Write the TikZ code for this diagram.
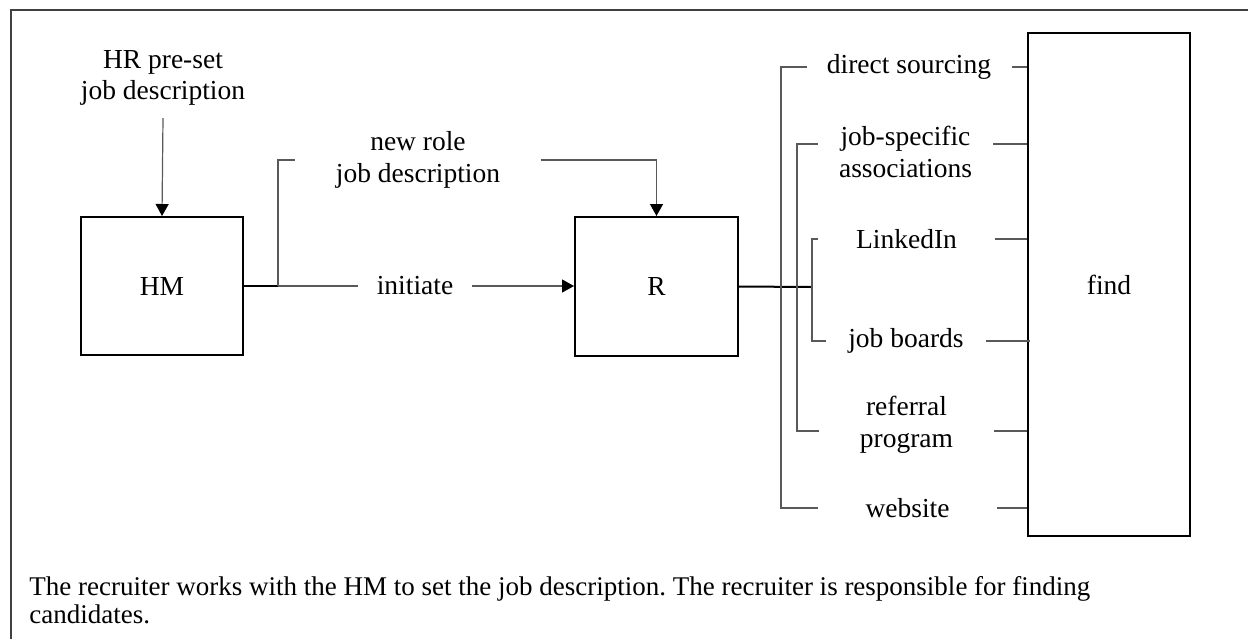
\documentclass[tikz,border=0pt]{standalone}
\usepackage{fontspec}
\setmainfont{Liberation Serif}
\usetikzlibrary{arrows.meta,calc}
\frenchspacing
\begin{document}
\begin{tikzpicture}[x=0.5pt,y=-0.5pt,
  font=\fontsize{13.75}{15.8}\selectfont,
  box/.style={draw=black,line width=1pt,minimum width=81pt,minimum height=69pt,inner sep=0pt},
  conn/.style={draw=black!65,line width=0.6pt},
  heavy/.style={draw=black,line width=1pt},
  tip/.style={-{Triangle[length=6pt,width=6.5pt,color=black]}},
  lab/.style={align=center,inner ysep=0pt,inner xsep=#1},
  lab/.default=10pt,
]
\useasboundingbox (0,0) rectangle (1248,639);

% outer frame (left and top edges)
\draw[line width=1pt,black!75] (11,639) -- (11,10) -- (1248,10);

% main boxes
\node[box] (HM) at (162,286) {HM};
\node[box,minimum width=81.5pt,minimum height=69.5pt] (R) at (656.5,286.5) {R};
\node[box,minimum height=251.5pt] (find) at (1109,284.5) {find};

% input to the hiring manager
\node[align=center,inner ysep=6pt] (hr) at (163,78) {HR pre-set\\job description};
\draw[conn,tip] (hr.south) -- (HM.north);

% hiring manager to recruiter
\coordinate (hmj) at (278,286);
\node[lab=20pt] (nr) at (418,160) {new role\\job description};
\node[lab=9pt] (init) at (415,286) {initiate};
\draw[heavy] (HM.east) -- (hmj);
\draw[conn] (hmj) |- (nr.west);
\draw[conn,tip] (nr.east) -| (R.north);
\draw[conn] (hmj) -- (init.west);
\draw[conn,tip] (init.east) -- (init.east -| R.west);

% sourcing channels
\coordinate (va) at (781,287);
\coordinate (vb) at (797,287);
\coordinate (rj) at (812,287);
\node[lab=10pt]    (ds)  at (909,67)    {direct sourcing};
\node[lab=10.5pt]  (js)  at (905.5,152) {job-specific\\associations};
\node[lab=18.75pt] (li)  at (906.5,239) {LinkedIn};
\node[lab=11pt]    (jb)  at (906,341)   {job boards};
\node[lab=20.5pt]  (rp)  at (906.5,425) {referral\\program};
\node[lab=23.5pt]  (web) at (907.5,508) {website};

\draw[heavy] (R.east) -- (rj);
\draw[conn] (ds.west) -| (va) |- (web.west);
\draw[conn] ([yshift=4pt]js.west) -| (vb) |- ([yshift=-3pt]rp.west);
\draw[conn] (li.west) -| (rj) |- (jb.west);

\draw[conn] (ds.east) -- (ds.east -| find.west);
\draw[conn] ([yshift=4pt]js.east) coordinate (jse) -- (jse -| find.west);
\draw[conn] (li.east) -- (li.east -| find.west);
\draw[conn] (jb.east) -- ([xshift=1.5pt]jb.east -| find.west);
\draw[conn] ([yshift=-3pt]rp.east) coordinate (rpe) -- (rpe -| find.west);
\draw[conn] (web.east) -- (web.east -| find.west);

% caption
\node[anchor=north west,align=left,inner sep=0pt,
      font=\fontsize{13.5}{14}\selectfont] (cap) at (29,576)
  {The recruiter works with the HM to set the job description. The recruiter is responsible for finding\\candidates.};
\end{tikzpicture}
\end{document}
